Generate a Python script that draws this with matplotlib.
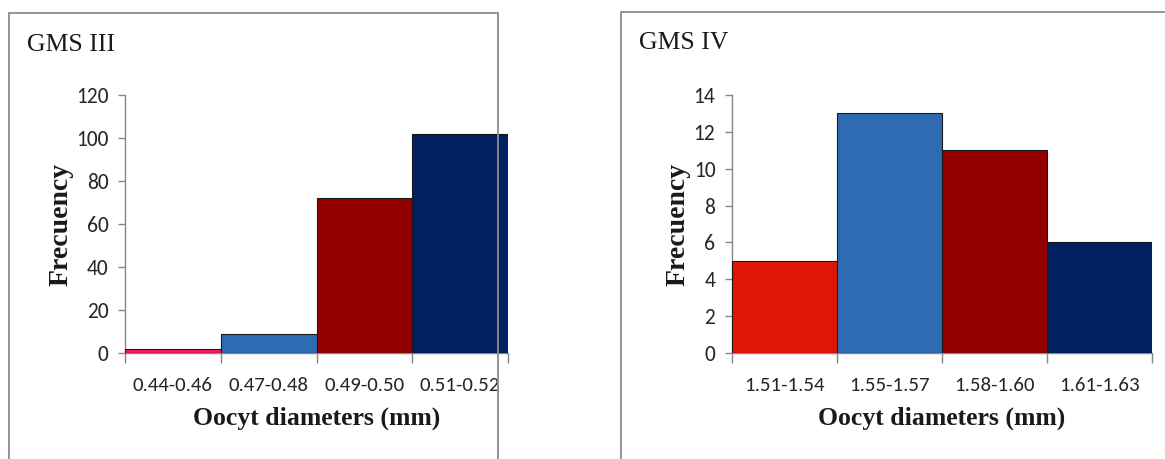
import matplotlib.pyplot as plt
from matplotlib.patches import Rectangle
import numpy as np

# Oocyte diameter classes and counts for the two gonad maturity stages
stage3_classes = ["0.44-0.46", "0.47-0.48", "0.49-0.50", "0.51-0.52"]
stage3_counts = [2, 9, 72, 102]
stage3_colors = ["#EE1C5C", "#2E6BB3", "#930000", "#002060"]

stage4_classes = ["1.51-1.54", "1.55-1.57", "1.58-1.60", "1.61-1.63"]
stage4_counts = [5, 13, 11, 6]
stage4_colors = ["#E01505", "#2E6BB3", "#930000", "#002060"]

W, H = 1165, 459
fig = plt.figure(figsize=(W / 100, H / 100), dpi=100)
fig.patch.set_facecolor("white")

serif = "Liberation Serif"
sans = ["Carlito", "Lato", "DejaVu Sans"]
grey = "#868686"


def panel(box, axrect, title, title_xy, classes, counts, colors, ymax, ystep):
    # chart-area frame
    x0, y0, x1, y1 = box
    fig.patches.append(Rectangle((x0 / W, 1 - y1 / H), (x1 - x0) / W, (y1 - y0) / H,
                                 transform=fig.transFigure, fill=False,
                                 edgecolor="#8C8C8C", linewidth=1.3, zorder=0))
    fig.text(title_xy[0] / W, 1 - title_xy[1] / H, title, family=serif,
             fontsize=18.5, color="#1a1a1a", va="center", ha="left")

    l, r, t, b = axrect
    ax = fig.add_axes([l / W, 1 - b / H, (r - l) / W, (b - t) / H])
    x = np.arange(len(counts))
    ax.bar(x, counts, width=1.0, color=colors, edgecolor="#1a1a1a",
           linewidth=0.8, zorder=3)
    ax.set_xlim(-0.5, len(counts) - 0.5)
    ax.set_ylim(0, ymax)
    ax.set_yticks(np.arange(0, ymax + 0.1, ystep))
    ax.set_xticks(x)
    ax.set_xticklabels(classes, family=sans, fontsize=15, color="#262626")
    ax.set_xticks(np.arange(-0.5, len(counts), 1.0), minor=True)
    ax.tick_params(axis="x", which="major", length=0, pad=17)
    ax.tick_params(axis="x", which="minor", length=7, color=grey, width=1)
    ax.tick_params(axis="y", length=5, color=grey, width=1, pad=7,
                   labelsize=15.5, labelcolor="#262626")
    for lab in ax.get_yticklabels():
        lab.set_family(sans)
    for s in ("top", "right"):
        ax.spines[s].set_visible(False)
    for s in ("left", "bottom"):
        ax.spines[s].set_color(grey)
        ax.spines[s].set_linewidth(1)
    ax.set_xlabel("Oocyt diameters (mm)", family=serif, fontweight="bold",
                  fontsize=18.5, color="#1a1a1a", labelpad=9)
    ax.set_ylabel("Frecuency", family=serif, fontweight="bold",
                  fontsize=20, color="#1a1a1a", labelpad=2)
    return ax


panel((9, 13, 498, 470), (125, 508, 95, 353), "GMS III", (27, 45),
      stage3_classes, stage3_counts, stage3_colors, 120, 20)
panel((621, 12, 1180, 470), (732, 1152, 95, 353), "GMS IV", (639, 43),
      stage4_classes, stage4_counts, stage4_colors, 14, 2)

fig.savefig("out.png", dpi=100)
